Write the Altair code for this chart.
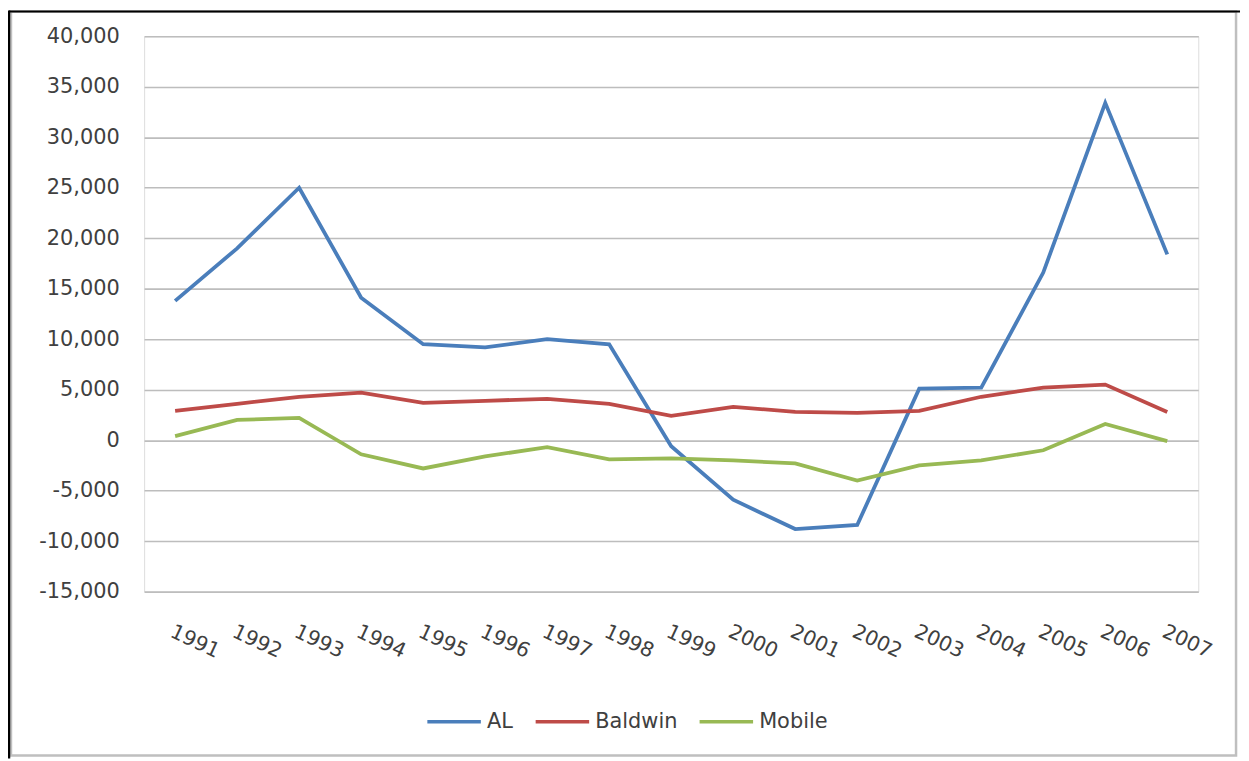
import altair as alt
import pandas as pd

years = ["1991", "1992", "1993", "1994", "1995", "1996", "1997", "1998", "1999",
         "2000", "2001", "2002", "2003", "2004", "2005", "2006", "2007"]
al = [13800, 19000, 25000, 14100, 9500, 9200, 10000, 9500, -600, -5900,
      -8800, -8400, 5100, 5200, 16600, 33400, 18400]
baldwin = [2900, 3600, 4300, 4700, 3700, 3900, 4100, 3600, 2400, 3300,
           2800, 2700, 2900, 4300, 5200, 5500, 2800]
mobile = [400, 2000, 2200, -1400, -2800, -1600, -700, -1900, -1800, -2000,
          -2300, -4000, -2500, -2000, -1000, 1600, -100]
series_names = ["AL", "Baldwin", "Mobile"]
series_colors = ["#4A7EBB", "#BE4B48", "#98B954"]
y_ticks = [-15000, -10000, -5000, 0, 5000, 10000, 15000, 20000, 25000, 30000, 35000, 40000]

rows = []
for name, vals in zip(series_names, [al, baldwin, mobile]):
    for yr, v in zip(years, vals):
        rows.append({"Year": yr, "Value": v, "Series": name})
df = pd.DataFrame(rows)

FONT = "DejaVu Sans"
TXT = "#404040"

lines = alt.Chart(df).mark_line(strokeWidth=3.8).encode(
    x=alt.X("Year:O", sort=years, title=None,
            scale=alt.Scale(type="point", padding=0.5),
            axis=alt.Axis(labelAngle=25, labelAlign="left", labelBaseline="top",
                          labelPadding=30, domain=False, ticks=False,
                          grid=False, labelFontSize=20.5, labelFont=FONT,
                          labelColor=TXT)),
    y=alt.Y("Value:Q", title=None,
            scale=alt.Scale(domain=[-15000, 40000], nice=False, zero=False),
            axis=alt.Axis(values=y_ticks, domain=False, ticks=False,
                          labelExpr="(datum.value < 0 ? '-' : '') + format(abs(datum.value), ',d')",
                          labelPadding=25, labelFontSize=21, labelFont=FONT,
                          labelColor=TXT, gridColor="#bdbdbd", gridWidth=1.6)),
    color=alt.Color("Series:N", sort=series_names, title=None,
                    scale=alt.Scale(domain=series_names, range=series_colors),
                    legend=alt.Legend(orient="none", legendX=283, legendY=661,
                                      direction="horizontal", symbolType="stroke",
                                      symbolSize=2900, symbolStrokeWidth=3.5,
                                      labelFontSize=21, labelFont=FONT,
                                      labelColor=TXT, labelOffset=4,
                                      columnPadding=15)),
)

frame = alt.Chart(pd.DataFrame({"a": [0]})).mark_rect(
    filled=False, stroke="#bfbfbf", strokeWidth=2.5
).encode(x=alt.value(-134), x2=alt.value(1099), y=alt.value(-25), y2=alt.value(724))

left_black = alt.Chart(pd.DataFrame({"a": [0]})).mark_rule(
    color="#000000", strokeWidth=2.5
).encode(x=alt.value(-136), y=alt.value(-26), y2=alt.value(727))

top_black = alt.Chart(pd.DataFrame({"a": [0]})).mark_rule(
    color="#000000", strokeWidth=2
).encode(x=alt.value(-136), x2=alt.value(1103), y=alt.value(-25))

chart = alt.layer(frame, left_black, top_black, lines).properties(
    width=1061, height=559,
    autosize=alt.AutoSizeParams(type="none"),
    padding={"left": 137, "top": 26, "right": 43, "bottom": 168},
).configure_view(stroke=None).configure(background="white")

chart.save("out.html", embed_options={"renderer": "svg", "actions": False})
